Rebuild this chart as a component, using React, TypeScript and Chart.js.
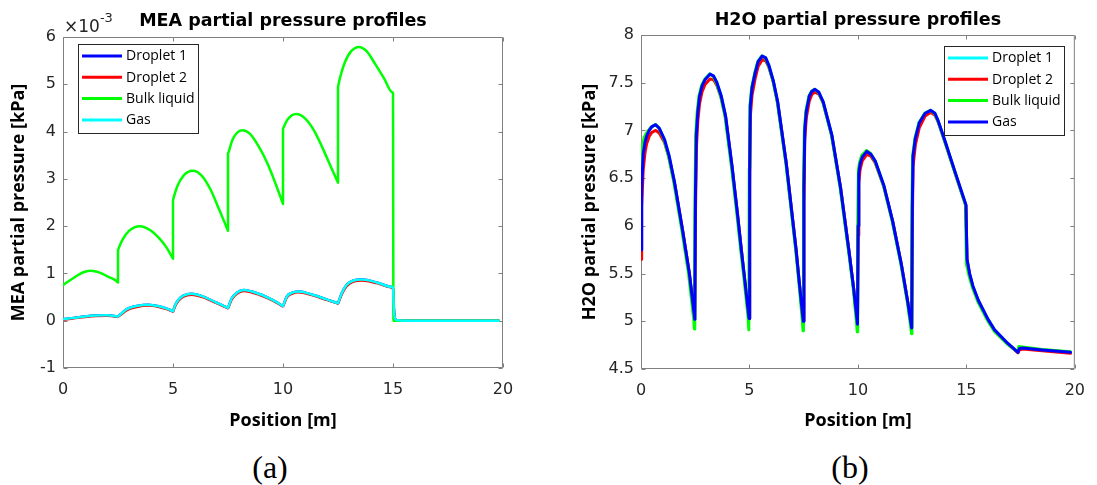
import React, { useEffect, useRef } from "react";
import { Chart, registerables } from "chart.js";

Chart.register(...registerables);

// ---------------- shared ----------------
const seriesNames = ["Droplet 1", "Droplet 2", "Bulk liquid", "Gas"];
const positionTicks = [0, 5, 10, 15, 20];

// ---------------- MEA (values shown in units of 1e-3 kPa) ----------------
const meaTicks = [-1, 0, 1, 2, 3, 4, 5, 6];
const meaColors = ["#0000ff", "#ff0000", "#00ff00", "#00ffff"];

const meaBulkX = [
  0, 0.3, 0.6, 0.9, 1.23, 1.5, 1.8, 2.1, 2.4, 2.47, 2.5,
  2.5, 2.53, 2.7, 3.0, 3.5, 3.95, 4.4, 4.7, 4.97, 5.0,
  5.0, 5.03, 5.2, 5.5, 5.9, 6.3, 6.7, 7.1, 7.47, 7.5,
  7.5, 7.53, 7.7, 7.9, 8.15, 8.5, 8.9, 9.3, 9.7, 9.97, 10.0,
  10.0, 10.03, 10.2, 10.6, 11.0, 11.4, 11.8, 12.2, 12.47, 12.5,
  12.5, 12.53, 12.6, 12.8, 13.1, 13.45, 13.8, 14.2, 14.6, 14.97, 15.0,
  15.02, 15.05, 19.8,
];
const meaBulk = [
  0.755, 0.85, 0.94, 1.02, 1.056, 1.04, 0.99, 0.92, 0.85, 0.82, 0.81,
  1.49, 1.53, 1.71, 1.9, 2.0, 1.92, 1.73, 1.55, 1.335, 1.31,
  2.55, 2.6, 2.85, 3.08, 3.17, 3.07, 2.78, 2.35, 1.934, 1.9,
  3.53, 3.57, 3.82, 3.97, 4.03, 3.95, 3.68, 3.32, 2.85, 2.51, 2.47,
  4.06, 4.09, 4.25, 4.37, 4.28, 4.03, 3.65, 3.23, 2.95, 2.92,
  4.95, 5.01, 5.15, 5.45, 5.7, 5.79, 5.7, 5.42, 5.12, 4.833, 4.81,
  0.0, 0.0, 0.0,
];

const meaFilmX = [
  0, 0.5, 1.0, 1.5, 2.0, 2.47, 2.5, 2.53,
  2.7, 2.9, 3.35, 3.88, 4.4, 4.75, 4.97, 5.0, 5.03,
  5.1, 5.24, 5.47, 5.85, 6.38, 6.98, 7.47, 7.5, 7.53,
  7.67, 7.9, 8.2, 8.95, 9.56, 9.97, 10.0, 10.03,
  10.17, 10.4, 10.7, 11.38, 11.98, 12.47, 12.5, 12.53,
  12.67, 12.89, 13.2, 13.6, 14.26, 14.97, 15.0,
  15.03, 15.08, 15.2, 16.0, 19.8,
];
const meaDroplet1 = [
  0.03, 0.06, 0.09, 0.11, 0.115, 0.0915, 0.09, 0.102,
  0.17, 0.245, 0.31, 0.34, 0.3, 0.25, 0.206, 0.2, 0.24,
  0.33, 0.44, 0.53, 0.57, 0.51, 0.38, 0.276, 0.27, 0.306,
  0.475, 0.59, 0.65, 0.56, 0.43, 0.318, 0.31, 0.345,
  0.51, 0.59, 0.62, 0.545, 0.45, 0.375, 0.37, 0.407,
  0.58, 0.755, 0.85, 0.87, 0.81, 0.712, 0.71,
  0.35, 0.06, 0.01, 0.0, 0.0,
];
const meaDroplet2 = [
  0.02, 0.05, 0.08, 0.1, 0.105, 0.087, 0.085, 0.095,
  0.15, 0.225, 0.29, 0.32, 0.285, 0.24, 0.2, 0.195, 0.23,
  0.31, 0.42, 0.51, 0.55, 0.495, 0.37, 0.27, 0.265, 0.295,
  0.45, 0.57, 0.63, 0.545, 0.42, 0.31, 0.305, 0.335,
  0.49, 0.57, 0.6, 0.53, 0.44, 0.37, 0.365, 0.395,
  0.56, 0.73, 0.83, 0.85, 0.795, 0.702, 0.7,
  0.33, 0.05, 0.01, 0.0, 0.0,
];
const meaGas = [
  0.03, 0.06, 0.09, 0.11, 0.115, 0.0915, 0.09, 0.102,
  0.17, 0.245, 0.31, 0.34, 0.3, 0.25, 0.206, 0.2, 0.24,
  0.33, 0.44, 0.53, 0.57, 0.51, 0.38, 0.276, 0.27, 0.306,
  0.475, 0.59, 0.65, 0.56, 0.43, 0.318, 0.31, 0.345,
  0.51, 0.59, 0.62, 0.545, 0.45, 0.375, 0.37, 0.407,
  0.58, 0.755, 0.85, 0.87, 0.81, 0.712, 0.71,
  0.35, 0.06, 0.01, 0.0, 0.0,
];

// ---------------- H2O ----------------
const h2oTicks = [4.5, 5, 5.5, 6, 6.5, 7, 7.5, 8];
const h2oColors = ["#00ffff", "#ff0000", "#00ff00", "#0000ff"];

const h2oFilmX = [
  0, 0.03, 0.1, 0.18, 0.26, 0.38, 0.5, 0.68, 0.85, 1.09, 1.3, 1.55, 1.92, 2.23, 2.48,
  2.51, 2.55, 2.62, 2.7, 2.82, 2.95, 3.18, 3.35, 3.5, 3.7, 3.9, 4.2, 4.45, 4.62, 4.8, 4.98,
  5.01, 5.04, 5.12, 5.26, 5.4, 5.59, 5.75, 5.9, 6.1, 6.3, 6.7, 7.0, 7.15, 7.3, 7.48,
  7.51, 7.55, 7.62, 7.76, 7.88, 8.02, 8.2, 8.4, 8.8, 9.2, 9.58, 9.8, 9.98,
  10.01, 10.04, 10.1, 10.2, 10.41, 10.6, 10.8, 11.2, 11.6, 12.0, 12.3, 12.48,
  12.51, 12.54, 12.65, 12.83, 13.1, 13.36, 13.55, 13.7, 14.0, 14.5, 14.98,
  15.03, 15.15, 15.3, 15.55, 16.0, 16.3, 16.9, 17.38, 17.45, 17.6, 18.5, 19.8,
];
const h2oGas = [
  5.75, 6.4, 6.75, 6.87, 6.94, 7.0, 7.04, 7.06, 7.02, 6.9, 6.73, 6.45, 5.95, 5.5, 5.02,
  6.3, 6.95, 7.2, 7.36, 7.47, 7.53, 7.59, 7.57, 7.5, 7.36, 7.15, 6.62, 6.12, 5.76, 5.4, 5.03,
  6.6, 7.26, 7.45, 7.6, 7.72, 7.78, 7.76, 7.68, 7.52, 7.3, 6.65, 6.05, 5.75, 5.4, 5.0,
  6.4, 7.0, 7.2, 7.36, 7.41, 7.43, 7.4, 7.3, 6.95, 6.4, 5.75, 5.35, 4.97,
  6.0, 6.55, 6.65, 6.72, 6.78, 6.75, 6.68, 6.42, 6.05, 5.6, 5.2, 4.93,
  6.2, 6.73, 6.92, 7.08, 7.18, 7.21, 7.18, 7.1, 6.9, 6.55, 6.22,
  5.65, 5.5, 5.37, 5.22, 5.02, 4.91, 4.77, 4.675, 4.715, 4.72, 4.7, 4.675,
];
const h2oDroplet1 = [
  5.75, 6.4, 6.75, 6.87, 6.94, 7.0, 7.04, 7.06, 7.02, 6.9, 6.73, 6.45, 5.95, 5.5, 5.02,
  6.3, 6.95, 7.2, 7.36, 7.47, 7.53, 7.59, 7.57, 7.5, 7.36, 7.15, 6.62, 6.12, 5.76, 5.4, 5.03,
  6.6, 7.26, 7.45, 7.6, 7.72, 7.78, 7.76, 7.68, 7.52, 7.3, 6.65, 6.05, 5.75, 5.4, 5.0,
  6.4, 7.0, 7.2, 7.36, 7.41, 7.43, 7.4, 7.3, 6.95, 6.4, 5.75, 5.35, 4.97,
  6.0, 6.55, 6.65, 6.72, 6.78, 6.75, 6.68, 6.42, 6.05, 5.6, 5.2, 4.93,
  6.2, 6.73, 6.92, 7.08, 7.18, 7.21, 7.18, 7.1, 6.9, 6.55, 6.22,
  5.65, 5.5, 5.37, 5.22, 5.02, 4.91, 4.77, 4.675, 4.715, 4.72, 4.7, 4.675,
];
const h2oDroplet2 = [
  5.65, 6.2, 6.58, 6.76, 6.86, 6.94, 6.98, 7.0, 6.97, 6.87, 6.71, 6.44, 5.95, 5.5, 5.02,
  6.1, 6.8, 7.1, 7.28, 7.41, 7.48, 7.54, 7.53, 7.47, 7.34, 7.14, 6.61, 6.12, 5.76, 5.4, 5.03,
  6.4, 7.15, 7.37, 7.54, 7.67, 7.74, 7.73, 7.66, 7.51, 7.29, 6.65, 6.05, 5.75, 5.4, 5.0,
  6.2, 6.9, 7.13, 7.31, 7.38, 7.4, 7.38, 7.29, 6.94, 6.4, 5.75, 5.35, 4.97,
  5.9, 6.45, 6.59, 6.68, 6.75, 6.73, 6.66, 6.41, 6.05, 5.6, 5.2, 4.93,
  6.0, 6.62, 6.85, 7.03, 7.15, 7.19, 7.16, 7.09, 6.89, 6.54, 6.21,
  5.64, 5.49, 5.36, 5.21, 5.01, 4.9, 4.765, 4.67, 4.7, 4.71, 4.69, 4.665,
];

const h2oBulkX = [
  0, 0.05, 0.15, 0.3, 0.45, 0.65, 0.82, 1.05, 1.26, 1.51, 1.88, 2.19, 2.43, 2.46,
  2.48, 2.52, 2.59, 2.67, 2.79, 2.92, 3.15, 3.32, 3.47, 3.67, 3.87, 4.17, 4.42, 4.59, 4.77, 4.94, 4.97,
  4.99, 5.02, 5.1, 5.24, 5.38, 5.57, 5.73, 5.88, 6.08, 6.28, 6.68, 6.98, 7.13, 7.28, 7.44, 7.47,
  7.49, 7.53, 7.6, 7.74, 7.86, 8.0, 8.18, 8.38, 8.78, 9.18, 9.56, 9.78, 9.94, 9.97,
  9.99, 10.02, 10.08, 10.18, 10.39, 10.58, 10.78, 11.18, 11.58, 11.98, 12.28, 12.44, 12.47,
  12.49, 12.52, 12.63, 12.81, 13.08, 13.34, 13.53, 13.68, 13.98, 14.48, 14.96,
  15.0, 15.12, 15.27, 15.52, 15.97, 16.27, 16.87, 17.36, 17.42, 17.58, 18.5, 19.8,
];
const h2oBulk = [
  6.6, 6.82, 6.93, 6.99, 7.03, 7.06, 7.03, 6.91, 6.74, 6.46, 5.96, 5.5, 5.02, 4.92,
  6.1, 6.95, 7.2, 7.36, 7.47, 7.53, 7.59, 7.57, 7.5, 7.36, 7.15, 6.62, 6.12, 5.76, 5.4, 5.03, 4.91,
  6.6, 7.26, 7.45, 7.6, 7.72, 7.78, 7.76, 7.68, 7.52, 7.3, 6.65, 6.05, 5.75, 5.4, 5.0, 4.9,
  6.4, 7.0, 7.2, 7.36, 7.41, 7.43, 7.4, 7.3, 6.95, 6.4, 5.75, 5.35, 4.97, 4.89,
  6.0, 6.58, 6.67, 6.74, 6.79, 6.76, 6.68, 6.42, 6.05, 5.6, 5.2, 4.93, 4.87,
  6.2, 6.73, 6.92, 7.08, 7.18, 7.21, 7.18, 7.1, 6.9, 6.55, 6.22,
  5.6, 5.48, 5.36, 5.21, 5.01, 4.9, 4.765, 4.68, 4.735, 4.73, 4.705, 4.68,
];

// ---------------- styling constants ----------------
const AXIS_COLOR = "#808080";
const TICK_COLOR = "#262626";
const TICK_FONT = { family: "'DejaVu Sans'", size: 16 };
const LABEL_FONT = { family: "'Open Sans'", size: 18, weight: "bold" as const };
const TITLE_FONT = { family: "'DejaVu Sans'", size: 17.5, weight: "bold" as const };

function pts(xs: number[], ys: number[]) {
  const n = Math.min(xs.length, ys.length);
  const out: { x: number; y: number }[] = [];
  for (let i = 0; i < n; i++) out.push({ x: xs[i], y: ys[i] });
  return out;
}

const boxPlugin = {
  id: "matlabBox",
  beforeDatasetsDraw(chart: any) {
    const { ctx, chartArea: a, scales } = chart;
    const L = a.left + 0.5, R = a.right - 0.5, T = a.top + 0.5, B = a.bottom - 0.5;
    const tl = 4;
    ctx.save();
    ctx.strokeStyle = AXIS_COLOR;
    ctx.lineWidth = 1;
    ctx.beginPath();
    ctx.rect(L, T, R - L, B - T);
    scales.x.ticks.forEach((t: any) => {
      const px = Math.round(scales.x.getPixelForValue(t.value)) + 0.5;
      ctx.moveTo(px, B); ctx.lineTo(px, B - tl);
      ctx.moveTo(px, T); ctx.lineTo(px, T + tl);
    });
    scales.y.ticks.forEach((t: any) => {
      const py = Math.round(scales.y.getPixelForValue(t.value)) + 0.5;
      ctx.moveTo(L, py); ctx.lineTo(L + tl, py);
      ctx.moveTo(R, py); ctx.lineTo(R - tl, py);
    });
    ctx.stroke();
    ctx.restore();
  },
};

const legendPlugin = {
  id: "boxLegend",
  afterDatasetsDraw(chart: any, _args: any, opts: any) {
    if (!opts || !opts.width) return;
    const { ctx, chartArea: a } = chart;
    const w = opts.width, h = opts.height;
    const left = Math.round(opts.side === "right" ? a.right - opts.dx - w : a.left + opts.dx);
    const top = Math.round(a.top + opts.dy);
    ctx.save();
    ctx.fillStyle = "#ffffff";
    ctx.fillRect(left, top, w, h);
    ctx.strokeStyle = "#262626";
    ctx.lineWidth = 1;
    ctx.strokeRect(left + 0.5, top + 0.5, w, h);
    ctx.font = "14px 'Open Sans'";
    ctx.textBaseline = "middle";
    ctx.textAlign = "left";
    chart.data.datasets.forEach((ds: any, i: number) => {
      const y = top + opts.firstRow + i * opts.rowGap;
      ctx.strokeStyle = ds.borderColor;
      ctx.lineWidth = 3;
      ctx.beginPath();
      ctx.moveTo(left + 4, y);
      ctx.lineTo(left + 44, y);
      ctx.stroke();
      ctx.fillStyle = "#000000";
      ctx.fillText(ds.label, left + 48, y + 0.5);
    });
    ctx.restore();
  },
};

const exponentPlugin = {
  id: "axisExponent",
  afterDraw(chart: any, _args: any, opts: any) {
    if (!opts || !opts.base) return;
    const { ctx, chartArea: a } = chart;
    ctx.save();
    ctx.fillStyle = TICK_COLOR;
    ctx.textBaseline = "alphabetic";
    ctx.textAlign = "left";
    ctx.font = "17px 'DejaVu Sans'";
    ctx.fillText(opts.base, a.left + 1, a.top - 5);
    const w = ctx.measureText(opts.base).width;
    ctx.font = "13px 'DejaVu Sans'";
    ctx.fillText(opts.exp, a.left + 1 + w, a.top - 15);
    ctx.restore();
  },
};

const plainNumber = (v: any) => String(Number(v));

function buildConfig(p: any) {
  return {
    type: "line",
    data: { datasets: p.datasets },
    options: {
      responsive: false,
      animation: false,
      devicePixelRatio: 1,
      events: [],
      layout: { padding: { left: 0, right: p.padRight, top: 0, bottom: 0 } },
      elements: {
        point: { radius: 0, hitRadius: 0 },
        line: { tension: 0, cubicInterpolationMode: p.smooth ? "monotone" : "default" },
      },
      plugins: {
        legend: { display: false },
        tooltip: { enabled: false },
        title: {
          display: true,
          text: p.title,
          fullSize: false,
          color: "#000000",
          font: TITLE_FONT,
          padding: p.titlePad,
        },
        boxLegend: p.legend,
        axisExponent: p.exponent,
      },
      scales: {
        x: {
          type: "linear",
          min: positionTicks[0],
          max: positionTicks[positionTicks.length - 1],
          afterBuildTicks: (s: any) => {
            s.ticks = positionTicks.map((v) => ({ value: v }));
          },
          afterFit: (s: any) => {
            s.height = p.xAxisHeight;
          },
          grid: { display: false, drawTicks: false },
          border: { display: false },
          ticks: { color: TICK_COLOR, font: TICK_FONT, padding: 12, maxRotation: 0, autoSkip: false, callback: plainNumber },
          title: {
            display: true,
            text: "Position [m]",
            color: "#000000",
            font: LABEL_FONT,
            padding: { top: 0, bottom: 8 },
          },
        },
        y: {
          type: "linear",
          min: p.yTicks[0],
          max: p.yTicks[p.yTicks.length - 1],
          afterBuildTicks: (s: any) => {
            s.ticks = p.yTicks.map((v: number) => ({ value: v }));
          },
          afterFit: (s: any) => {
            s.width = p.yAxisWidth;
          },
          grid: { display: false, drawTicks: false },
          border: { display: false },
          ticks: { color: TICK_COLOR, font: TICK_FONT, padding: 7, autoSkip: false, callback: plainNumber },
          title: {
            display: true,
            text: p.yTitle,
            color: "#000000",
            font: LABEL_FONT,
            padding: { top: p.yTitlePad, bottom: 0 },
          },
        },
      },
    },
    plugins: [boxPlugin, legendPlugin, exponentPlugin],
  };
}

function lineDs(label: string, data: any[], color: string, width: number, order: number) {
  return {
    label,
    data,
    borderColor: color,
    backgroundColor: color,
    borderWidth: width,
    borderJoinStyle: "round",
    borderCapStyle: "round",
    fill: false,
    order,
  };
}

export default function App() {
  const leftRef = useRef<HTMLCanvasElement | null>(null);
  const rightRef = useRef<HTMLCanvasElement | null>(null);

  useEffect(() => {
    const meaDatasets = [
      lineDs(seriesNames[0], pts(meaFilmX, meaDroplet1), meaColors[0], 2.5, 3),
      lineDs(seriesNames[1], pts(meaFilmX, meaDroplet2), meaColors[1], 2.5, 2),
      lineDs(seriesNames[2], pts(meaBulkX, meaBulk), meaColors[2], 2.5, 1),
      lineDs(seriesNames[3], pts(meaFilmX, meaGas), meaColors[3], 2.5, 0),
    ];
    const h2oDatasets = [
      lineDs(seriesNames[0], pts(h2oFilmX, h2oDroplet1), h2oColors[0], 3, 3),
      lineDs(seriesNames[1], pts(h2oFilmX, h2oDroplet2), h2oColors[1], 3, 2),
      lineDs(seriesNames[2], pts(h2oBulkX, h2oBulk), h2oColors[2], 3, 1),
      lineDs(seriesNames[3], pts(h2oFilmX, h2oGas), h2oColors[3], 3, 0),
    ];

    const left = new Chart(
      leftRef.current as HTMLCanvasElement,
      buildConfig({
        datasets: meaDatasets,
        yTicks: meaTicks,
        smooth: true,
        title: "MEA partial pressure profiles",
        yTitle: "MEA partial pressure [kPa]",
        yAxisWidth: 63,
        xAxisHeight: 72,
        padRight: 45,
        titlePad: { top: 10.5, bottom: 5.5 },
        yTitlePad: 8,
        legend: { side: "left", dx: 15, dy: 7, width: 120, height: 89, firstRow: 12, rowGap: 21.3 },
        exponent: { base: "\u00d710", exp: "-3" },
      }) as any
    );
    const right = new Chart(
      rightRef.current as HTMLCanvasElement,
      buildConfig({
        datasets: h2oDatasets,
        yTicks: h2oTicks,
        smooth: false,
        title: "H2O partial pressure profiles",
        yTitle: "H2O partial pressure [kPa]",
        yAxisWidth: 81,
        xAxisHeight: 71,
        padRight: 16,
        titlePad: { top: 9.7, bottom: 4.3 },
        yTitlePad: 19,
        legend: { side: "right", dx: 11, dy: 11, width: 120, height: 89, firstRow: 12, rowGap: 21.3 },
        exponent: null,
      }) as any
    );
    return () => {
      left.destroy();
      right.destroy();
    };
  }, []);

  const caption = (cx: number): React.CSSProperties => ({
    position: "absolute",
    left: cx - 60,
    width: 120,
    top: 447,
    height: 40,
    lineHeight: "40px",
    textAlign: "center",
    fontFamily: "'Liberation Serif', serif",
    fontSize: 32,
    color: "#000",
  });

  return (
    <div style={{ position: "fixed", left: 0, top: 0, width: 1097, height: 485, background: "#ffffff", overflow: "hidden" }}>
      <canvas ref={leftRef} width={548} height={440} style={{ position: "absolute", left: 0, top: 0, width: 548, height: 440 }} />
      <canvas ref={rightRef} width={537} height={440} style={{ position: "absolute", left: 560, top: 0, width: 537, height: 440 }} />
      <div style={caption(270)}>(a)</div>
      <div style={caption(850)}>(b)</div>
    </div>
  );
}
